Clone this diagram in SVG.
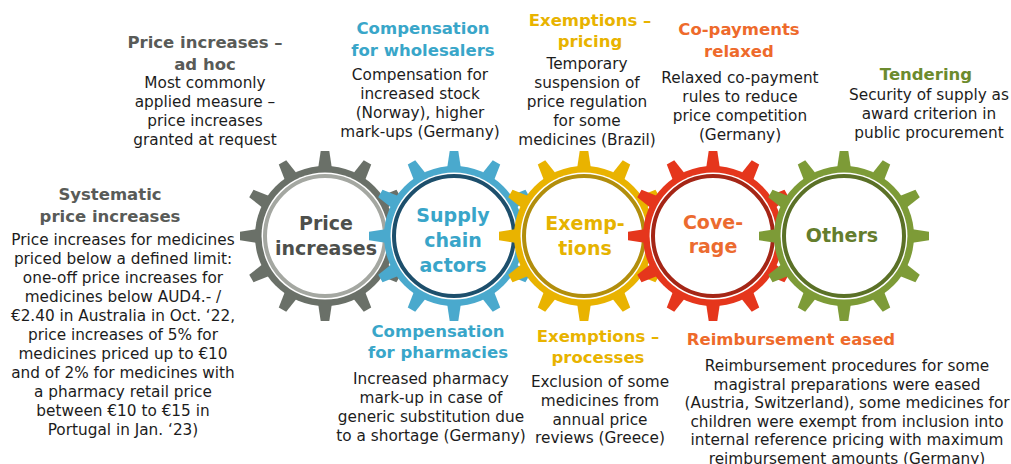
<svg xmlns="http://www.w3.org/2000/svg" xmlns:xlink="http://www.w3.org/1999/xlink" width="1011" height="464" viewBox="0 0 1011 464">
  <style>
    text { font-family: "DejaVu Sans", Verdana, sans-serif; text-anchor: middle; }
    .h { font-weight: bold; font-size: 16.5px; }
    .b { font-size: 15.3px; fill: #1c1c1c; }
    .lbl { font-weight: bold; font-size: 19px; }
    .c-gray { fill: #595b58; }
    .c-blue { fill: #39a6c9; }
    .c-yellow { fill: #e8b300; }
    .c-orange { fill: #ee6a2b; }
    .c-green { fill: #6c8b2e; }
  </style>
  <defs>
    <!-- a single cog tooth, pointing up from the hub centre -->
    <path id="tooth" d="M-7,-67 L-4.3,-85 L4.3,-85 L7,-67 Z"/>
    <!-- cog outline: rim disc plus twelve teeth every 30 degrees -->
    <g id="cog">
      <circle r="70"/>
      <use xlink:href="#tooth"/>
      <use xlink:href="#tooth" transform="rotate(30)"/>
      <use xlink:href="#tooth" transform="rotate(60)"/>
      <use xlink:href="#tooth" transform="rotate(90)"/>
      <use xlink:href="#tooth" transform="rotate(120)"/>
      <use xlink:href="#tooth" transform="rotate(150)"/>
      <use xlink:href="#tooth" transform="rotate(180)"/>
      <use xlink:href="#tooth" transform="rotate(210)"/>
      <use xlink:href="#tooth" transform="rotate(240)"/>
      <use xlink:href="#tooth" transform="rotate(270)"/>
      <use xlink:href="#tooth" transform="rotate(300)"/>
      <use xlink:href="#tooth" transform="rotate(330)"/>
    </g>
  </defs>

  <rect width="1011" height="464" fill="#ffffff"/>

  <!-- gears, drawn left to right so each one overlaps the previous -->
  <g id="gear-price-increases" transform="translate(325,236)">
    <use xlink:href="#cog" fill="#6a7068"/>
    <circle r="63.5" fill="#ffffff"/>
    <circle r="60" fill="#ffffff" stroke="#a4a7a1" stroke-width="4"/>
    <text class="lbl" fill="#4d4f4c" x="1" y="-6">Price</text>
    <text class="lbl" fill="#4d4f4c" x="1" y="19">increases</text>
  </g>

  <g id="gear-supply-chain" transform="translate(454,236)">
    <use xlink:href="#cog" fill="#4aa9cd"/>
    <circle r="63.5" fill="#ffffff"/>
    <circle r="60" fill="#ffffff" stroke="#1d4f6c" stroke-width="4"/>
    <text class="lbl" fill="#39a5c9" x="-1" y="-14">Supply</text>
    <text class="lbl" fill="#39a5c9" x="-1" y="11">chain</text>
    <text class="lbl" fill="#39a5c9" x="-1" y="36">actors</text>
  </g>

  <g id="gear-exemptions" transform="translate(584,236)">
    <use xlink:href="#cog" fill="#e9b300"/>
    <circle r="63.5" fill="#ffffff"/>
    <circle r="60" fill="#ffffff" stroke="#b28e0c" stroke-width="4"/>
    <text class="lbl" fill="#e6b300" x="1" y="-6">Exemp-</text>
    <text class="lbl" fill="#e6b300" x="1" y="19">tions</text>
  </g>

  <g id="gear-coverage" transform="translate(713,236)">
    <use xlink:href="#cog" fill="#e5361c"/>
    <circle r="63.5" fill="#ffffff"/>
    <circle r="60" fill="#ffffff" stroke="#a52616" stroke-width="4"/>
    <text class="lbl" fill="#ec6b2f" x="0" y="-7">Cove-</text>
    <text class="lbl" fill="#ec6b2f" x="0" y="17">rage</text>
  </g>

  <g id="gear-others" transform="translate(844,236)">
    <use xlink:href="#cog" fill="#7d9b37"/>
    <circle r="63.5" fill="#ffffff"/>
    <circle r="60" fill="#ffffff" stroke="#5b7127" stroke-width="4"/>
    <text class="lbl" fill="#647d2d" x="-2" y="6">Others</text>
  </g>

  <!-- measure descriptions -->
  <g id="note-price-adhoc">
    <text class="h c-gray" x="205" y="48">Price increases –</text>
    <text class="h c-gray" x="205" y="70">ad hoc</text>
    <text class="b" x="205" y="88">Most commonly</text>
    <text class="b" x="205" y="107">applied measure –</text>
    <text class="b" x="205" y="126">price increases</text>
    <text class="b" x="205" y="145">granted at request</text>
  </g>

  <g id="note-wholesalers">
    <text class="h c-blue" x="423" y="34">Compensation</text>
    <text class="h c-blue" x="423" y="56">for wholesalers</text>
    <text class="b" x="420" y="80">Compensation for</text>
    <text class="b" x="420" y="99">increased stock</text>
    <text class="b" x="420" y="118">(Norway), higher</text>
    <text class="b" x="420" y="137">mark-ups (Germany)</text>
  </g>

  <g id="note-exemptions-pricing">
    <text class="h c-yellow" x="590" y="26">Exemptions –</text>
    <text class="h c-yellow" x="590" y="47">pricing</text>
    <text class="b" x="587" y="69">Temporary</text>
    <text class="b" x="587" y="88">suspension of</text>
    <text class="b" x="587" y="107">price regulation</text>
    <text class="b" x="587" y="126">for some</text>
    <text class="b" x="587" y="145">medicines (Brazil)</text>
  </g>

  <g id="note-copayments">
    <text class="h c-orange" x="739" y="35">Co-payments</text>
    <text class="h c-orange" x="739" y="57">relaxed</text>
    <text class="b" x="740" y="83">Relaxed co-payment</text>
    <text class="b" x="740" y="102">rules to reduce</text>
    <text class="b" x="740" y="121">price competition</text>
    <text class="b" x="740" y="140">(Germany)</text>
  </g>

  <g id="note-tendering">
    <text class="h c-green" x="926" y="80">Tendering</text>
    <text class="b" x="929" y="100">Security of supply as</text>
    <text class="b" x="929" y="119">award criterion in</text>
    <text class="b" x="929" y="138">public procurement</text>
  </g>

  <g id="note-systematic">
    <text class="h c-gray" x="110" y="200">Systematic</text>
    <text class="h c-gray" x="110" y="222">price increases</text>
    <text class="b" x="123" y="245">Price increases for medicines</text>
    <text class="b" x="123" y="264">priced below a defined limit:</text>
    <text class="b" x="123" y="283">one-off price increases for</text>
    <text class="b" x="123" y="302">medicines below AUD4.- /</text>
    <text class="b" x="123" y="321">€2.40 in Australia in Oct. ‘22,</text>
    <text class="b" x="123" y="340">price increases of 5% for</text>
    <text class="b" x="123" y="359">medicines priced up to €10</text>
    <text class="b" x="123" y="378">and of 2% for medicines with</text>
    <text class="b" x="123" y="397">a pharmacy retail price</text>
    <text class="b" x="123" y="416">between €10 to €15 in</text>
    <text class="b" x="123" y="435">Portugal in Jan. ‘23)</text>
  </g>

  <g id="note-pharmacies">
    <text class="h c-blue" x="438" y="337">Compensation</text>
    <text class="h c-blue" x="438" y="358">for pharmacies</text>
    <text class="b" x="431" y="384">Increased pharmacy</text>
    <text class="b" x="431" y="403">mark-up in case of</text>
    <text class="b" x="431" y="422">generic substitution due</text>
    <text class="b" x="431" y="441">to a shortage (Germany)</text>
  </g>

  <g id="note-exemptions-processes">
    <text class="h c-yellow" x="598" y="342">Exemptions –</text>
    <text class="h c-yellow" x="598" y="363">processes</text>
    <text class="b" x="600" y="387">Exclusion of some</text>
    <text class="b" x="600" y="405.8">medicines from</text>
    <text class="b" x="600" y="424.6">annual price</text>
    <text class="b" x="600" y="443.4">reviews (Greece)</text>
  </g>

  <g id="note-reimbursement">
    <text class="h c-orange" x="791" y="345">Reimbursement eased</text>
    <text class="b" x="847" y="371">Reimbursement procedures for some</text>
    <text class="b" x="847" y="389.6">magistral preparations were eased</text>
    <text class="b" x="847" y="408.2">(Austria, Switzerland), some medicines for</text>
    <text class="b" x="847" y="426.8">children were exempt from inclusion into</text>
    <text class="b" x="847" y="445.4">internal reference pricing with maximum</text>
    <text class="b" x="847" y="464">reimbursement amounts (Germany)</text>
  </g>
</svg>
